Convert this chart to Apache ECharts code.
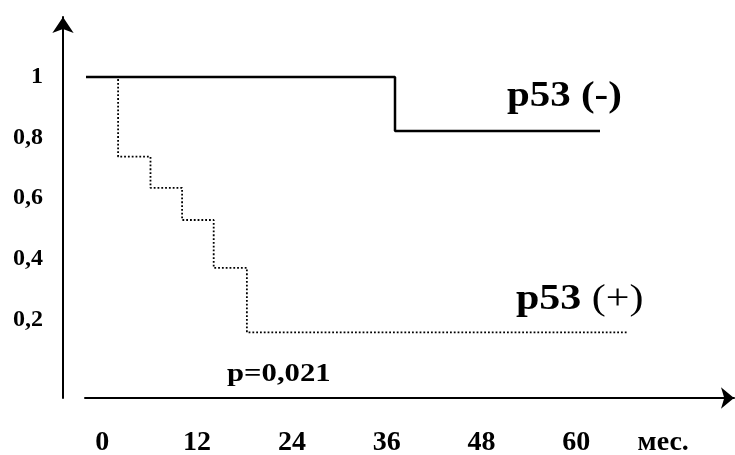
<!DOCTYPE html>
<html>
<head>
<meta charset="utf-8">
<script src="https://cdn.jsdelivr.net/npm/echarts@6/dist/echarts.min.js"></script>
<style>
html,body{margin:0;padding:0;background:#fff;}
#chart{width:735px;height:455px;}
</style>
</head>
<body>
<div id="chart"></div>
<script>
// ---- data ----
const negMonths = [-2.06, 37.05, 63.0];
const negSurv   = [1.0, 0.822, 0.822];
const posMonths = [-2.06, 2.0, 6.1, 10.1, 14.1, 18.3, 66.5];
const posSurv   = [1.0, 0.737, 0.634, 0.528, 0.370, 0.157, 0.157];
const xTickValues = [0, 12, 24, 36, 48, 60, 71];
const xTickTexts  = ['0', '12', '24', '36', '48', '60', 'мес.'];
const yTickValues = [0.2, 0.4, 0.6, 0.8, 1];
const yTickTexts  = ['0,2', '0,4', '0,6', '0,8', '1'];
const negName = 'p53', negSign = '(-)';
const posName = 'p53', posSign = '(+)';
const pText = 'p=0,021';

const FONT = '"Liberation Serif","Times New Roman",serif';
function pick(vals, texts, v) {
  for (let i = 0; i < vals.length; i++) if (Math.abs(vals[i] - v) < 1e-6) return texts[i];
  return '';
}
const zip = (xs, ys) => xs.map((x, i) => [x, ys[i]]);

const chart = echarts.init(document.getElementById('chart'), null, {renderer: 'canvas'});
chart.setOption({
  animation: false,
  backgroundColor: '#fff',
  grid: {left: 85, right: 1, top: 17, bottom: 57, containLabel: false, outerBoundsMode: 'none'},
  xAxis: {
    type: 'value', min: -2.19, max: 79.96,
    splitLine: {show: false},
    axisTick: {show: false},
    axisLine: {show: true, onZero: false, lineStyle: {color: '#000', width: 2},
      symbol: ['none', 'arrow'], symbolSize: [16, 13]},
    axisLabel: {
      customValues: xTickValues, margin: 31,
      fontFamily: FONT, fontWeight: 'bold', fontSize: 28, color: '#000',
      formatter: v => pick(xTickValues, xTickTexts, v)
    }
  },
  yAxis: {
    type: 'value', min: -0.0594, max: 1.198, offset: 22,
    splitLine: {show: false},
    axisTick: {show: false},
    axisLine: {show: true, onZero: false, lineStyle: {color: '#000', width: 2},
      symbol: ['none', 'arrow'], symbolSize: [16, 16]},
    axisLabel: {
      customValues: yTickValues, margin: 20, padding: [0, 0, 10, 0],
      fontFamily: FONT, fontWeight: 'bold', fontSize: 24, color: '#000',
      formatter: v => pick(yTickValues, yTickTexts, v)
    }
  },
  series: [
    {
      type: 'line', step: 'end', data: zip(posMonths, posSurv),
      symbol: 'none', z: 2,
      lineStyle: {color: '#000', width: 1.8, type: [1.8, 2]}
    },
    {
      type: 'line', step: 'end', data: zip(negMonths, negSurv),
      symbol: 'none', z: 3,
      lineStyle: {color: '#000', width: 2.5}
    }
  ],
  graphic: [
    {type: 'text', x: 507, y: 79, scaleX: 1.17, style: {
      text: '{b|' + negName + ' ' + negSign + '}',
      rich: {b: {fontFamily: FONT, fontWeight: 'bold', fontSize: 35, fill: '#000'}}
    }},
    {type: 'text', x: 516, y: 282, scaleX: 1.2, style: {
      text: '{b|' + posName + ' }{n|' + posSign + '}',
      rich: {b: {fontFamily: FONT, fontWeight: 'bold', fontSize: 35, fill: '#000'},
             n: {fontFamily: FONT, fontWeight: 'normal', fontSize: 35, fill: '#000'}}
    }},
    {type: 'text', x: 227, y: 361, scaleX: 1.18, style: {
      text: pText, fontFamily: FONT, fontWeight: 'bold', fontSize: 26, fill: '#000'
    }}
  ]
});
</script>
</body>
</html>
